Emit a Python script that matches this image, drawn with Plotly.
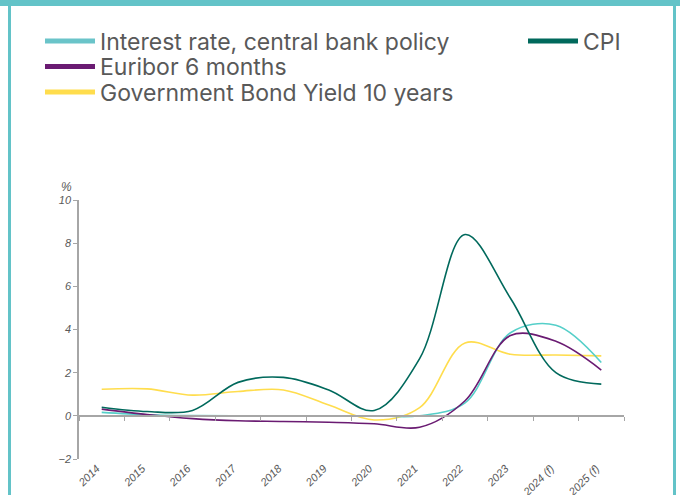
import plotly.graph_objects as go

years = ["2014", "2015", "2016", "2017", "2018", "2019", "2020", "2021", "2022", "2023", "2024 (f)", "2025 (f)"]
policy_rate = [0.16, 0.05, 0.01, 0.0, 0.0, 0.0, 0.0, 0.0, 0.6, 3.85, 4.2, 2.47]
cpi = [0.4, 0.2, 0.25, 1.55, 1.78, 1.2, 0.25, 2.65, 8.4, 5.45, 2.0, 1.47]
euribor = [0.31, 0.06, -0.13, -0.23, -0.26, -0.3, -0.37, -0.53, 0.7, 3.72, 3.45, 2.12]
bond = [1.23, 1.25, 0.96, 1.13, 1.2, 0.5, -0.19, 0.38, 3.38, 2.85, 2.82, 2.78]

C_POLICY = "#55CFC9"
C_POLICY_LEG = "#6AC4C9"
C_CPI = "#00695C"
C_EUR = "#6A1B72"
C_BOND = "#FFDD4D"
GRAY = "#595959"
AXIS = "#A6A6A6"
FRAME = "#63C3C8"
LEG_FONT = dict(size=23, family="Inter", color=GRAY)

fig = go.Figure()

# name, values, line colour, legend colour, legend id, legend x (px), legend row centre y (px)
series = [
    ("Interest rate, central bank policy", policy_rate, C_POLICY, C_POLICY_LEG, "legend", 40, 41),
    ("CPI", cpi, C_CPI, C_CPI, "legend2", 523, 41),
    ("Euribor 6 months", euribor, C_EUR, C_EUR, "legend3", 40, 66.5),
    ("Government Bond Yield 10 years", bond, C_BOND, C_BOND, "legend4", 40, 92),
]

for idx in [3, 0, 2, 1]:
    name, vals, col = series[idx][0], series[idx][1], series[idx][2]
    fig.add_trace(go.Scatter(
        x=years, y=vals, mode="lines", name=name, showlegend=False,
        line=dict(color=col, width=1.6, shape="spline", smoothing=1.0),
        hoverinfo="x+y+name",
    ))

legends = {}
for name, vals, col, lcol, leg, lx, ly in series:
    fig.add_trace(go.Scatter(
        x=[years[0]], y=[None], mode="lines", name=name, legend=leg,
        line=dict(color=lcol, width=5), hoverinfo="skip",
    ))
    legends[leg] = dict(
        xref="container", yref="container", x=lx / 680, y=1 - ly / 495,
        xanchor="left", yanchor="middle", orientation="v",
        font=LEG_FONT, bgcolor="rgba(0,0,0,0)", itemwidth=50,
    )

fig.add_trace(go.Scatter(
    x=years, y=cpi, xaxis="x2", mode="lines", line=dict(width=0),
    showlegend=False, hoverinfo="skip", opacity=0,
))

L, R, T, B = 79, 56, 200, 36
fig.update_layout(
    width=680, height=495,
    margin=dict(l=L, r=R, t=T, b=B, autoexpand=False),
    paper_bgcolor="white", plot_bgcolor="white",
    font=dict(family="Liberation Sans, Arial, sans-serif", color=GRAY),
    xaxis=dict(
        type="category", categoryorder="array", categoryarray=years,
        range=[-0.5, len(years) - 0.5],
        showline=False, showgrid=False, zeroline=False, ticks="",
        tickangle=-45, automargin=False, ticklabelshift=-5,
        tickfont=dict(size=11, family="Liberation Sans, Arial, sans-serif", color=GRAY, style="italic"),
    ),
    xaxis2=dict(
        type="category", categoryorder="array", categoryarray=years,
        range=[-0.5, len(years) - 0.5], overlaying="x", anchor="free",
        position=2 / 12, showline=True, linecolor=AXIS, linewidth=1.5,
        ticks="outside", tickson="boundaries", ticklen=4, tickcolor=AXIS,
        showticklabels=False, showgrid=False, zeroline=False, automargin=False,
    ),
    yaxis=dict(
        range=[-2, 10], dtick=2, tick0=0, showgrid=False, zeroline=False,
        showline=True, linecolor=AXIS, linewidth=1.5,
        ticks="outside", ticklen=4, tickcolor=AXIS, automargin=False,
        tickfont=dict(size=11, family="Liberation Sans, Arial, sans-serif", color=GRAY, style="italic"),
    ),
    annotations=[dict(
        text="%", xref="paper", yref="paper", x=0, y=1, xanchor="right", yanchor="bottom",
        xshift=-5, yshift=4, showarrow=False,
        font=dict(size=12, family="Liberation Sans, Arial, sans-serif", color=GRAY, style="italic"),
    )],
    **legends,
)

pw = 680 - L - R
ph = 495 - T - B
def px(xp):
    return (xp - L) / pw
def py(yp):
    return (495 - B - yp) / ph

fig.update_layout(shapes=[
    dict(type="rect", xref="paper", yref="paper", x0=px(-5), x1=px(690), y0=py(6), y1=py(-5),
         fillcolor=FRAME, line=dict(width=0), layer="above"),
    dict(type="rect", xref="paper", yref="paper", x0=px(8), x1=px(11), y0=py(500), y1=py(-5),
         fillcolor=FRAME, line=dict(width=0), layer="above"),
    dict(type="rect", xref="paper", yref="paper", x0=px(673), x1=px(676), y0=py(500), y1=py(-5),
         fillcolor=FRAME, line=dict(width=0), layer="above"),
])

fig.write_html(
    "out.html",
    config={"displayModeBar": False},
    post_script="document.body.style.margin='0';document.body.style.overflow='hidden';",
)
